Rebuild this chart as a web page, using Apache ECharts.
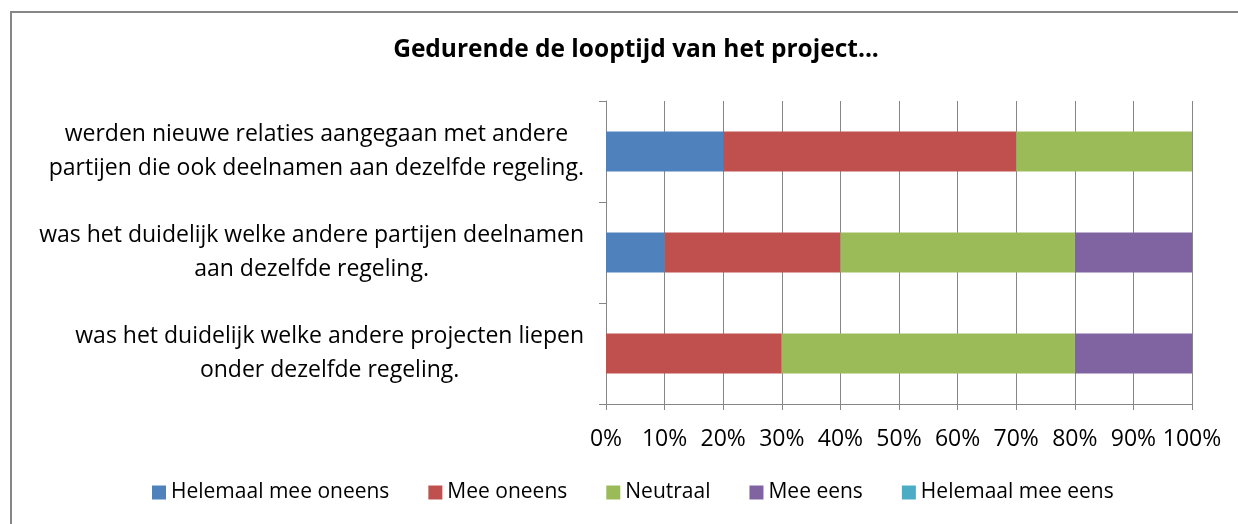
<!DOCTYPE html>
<html>
<head>
<meta charset="utf-8">
<script src="https://cdn.jsdelivr.net/npm/echarts@6/dist/echarts.min.js"></script>
<style>
  html, body { margin: 0; padding: 0; background: #fff; }
  #chart { width: 1238px; height: 524px; }
</style>
</head>
<body>
<div id="chart"></div>
<script>
var categories = [
  'werden nieuwe relaties aangegaan met andere\npartijen die ook deelnamen aan dezelfde regeling.',
  'was het duidelijk welke andere partijen deelnamen\naan dezelfde regeling.',
  'was het duidelijk welke andere projecten liepen\nonder dezelfde regeling.'
];
var seriesNames = ['Helemaal mee oneens', 'Mee oneens', 'Neutraal', 'Mee eens', 'Helemaal mee eens'];
var helemaalOneens = [20, 10, 0];
var meeOneens = [50, 30, 30];
var neutraal = [30, 40, 50];
var meeEens = [0, 20, 20];
var helemaalEens = [0, 0, 0];
var colors = ['#4F81BD', '#C0504D', '#9BBB59', '#8064A2', '#4BACC6'];

var fontFam = '"Open Sans", sans-serif';
var allData = [helemaalOneens, meeOneens, neutraal, meeEens, helemaalEens];

var series = seriesNames.map(function (name, i) {
  return {
    name: name,
    type: 'bar',
    stack: 'total',
    barWidth: 40,
    itemStyle: { color: colors[i] },
    data: allData[i]
  };
});

var chart = echarts.init(document.getElementById('chart'));
chart.setOption({
  animation: false,
  title: {
    text: 'Gedurende de looptijd van het project...',
    left: 631,
    top: 33,
    textAlign: 'center',
    textStyle: { fontFamily: fontFam, fontSize: 24.5, fontWeight: 'bold', color: '#000' }
  },
  graphic: [{
    type: 'rect',
    shape: { x: 11, y: 12, width: 1240, height: 530 },
    style: { fill: 'none', stroke: '#868686', lineWidth: 2 },
    silent: true
  }],
  legend: {
    data: seriesNames,
    bottom: 16,
    left: 147,
    itemWidth: 14,
    itemHeight: 14,
    itemGap: 39,
    icon: 'rect',
    textStyle: { fontFamily: fontFam, fontSize: 21, color: '#000' }
  },
  grid: { left: 606, right: 46, top: 101, bottom: 120 },
  xAxis: {
    type: 'value',
    min: 0,
    max: 100,
    interval: 10,
    axisLine: { show: true, lineStyle: { color: '#868686' } },
    axisTick: { show: true, length: 6, lineStyle: { color: '#868686' } },
    splitLine: { show: true, lineStyle: { color: '#868686' } },
    axisLabel: {
      margin: 24,
      formatter: '{value}%',
      fontFamily: fontFam,
      fontSize: 23,
      color: '#000'
    }
  },
  yAxis: {
    type: 'category',
    inverse: true,
    data: categories,
    axisLine: { show: true, lineStyle: { color: '#868686' } },
    axisTick: { show: true, length: 7, lineStyle: { color: '#868686' } },
    axisLabel: {
      margin: 22,
      fontFamily: fontFam,
      fontSize: 23,
      color: '#000',
      lineHeight: 34,
      formatter: function (v) {
        return v.split('\n').map(function (s) { return '{c|' + s + '}'; }).join('\n');
      },
      rich: {
        c: { align: 'center', fontFamily: fontFam, fontSize: 23, lineHeight: 34, color: '#000' }
      }
    }
  },
  series: series
});
</script>
</body>
</html>
